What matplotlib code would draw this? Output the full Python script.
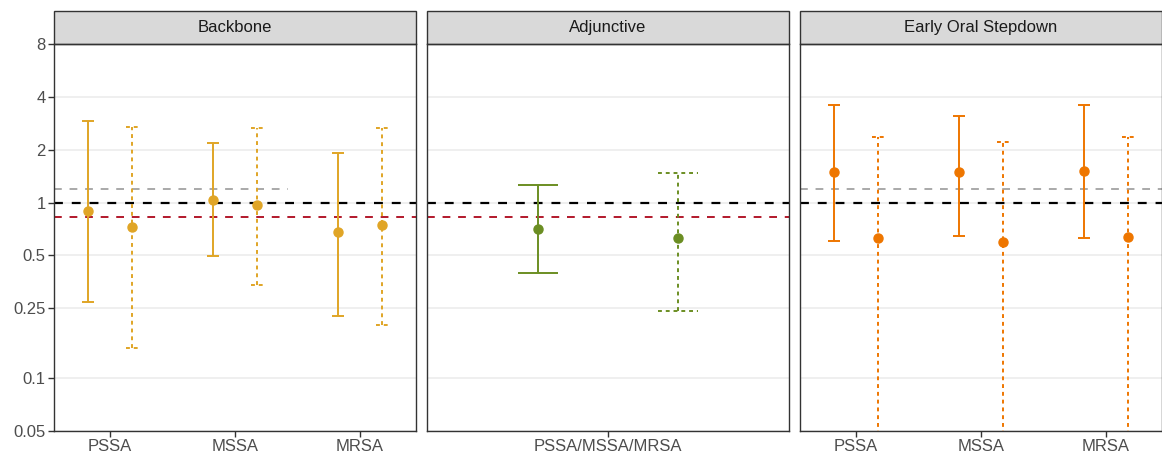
import numpy as np
import matplotlib.pyplot as plt
from matplotlib.patches import Rectangle
from matplotlib.ticker import FixedLocator, NullLocator

plt.rcParams['font.family'] = ['Liberation Sans', 'DejaVu Sans']

# values (log scale)
pathogens = ['PSSA', 'MSSA', 'MRSA']

# Backbone: solid = first estimate, dotted = second estimate
bb_est = [0.90, 1.04, 0.684]
bb_lo = [0.273, 0.495, 0.225]
bb_hi = [2.90, 2.19, 1.925]
bb_est2 = [0.73, 0.97, 0.743]
bb_lo2 = [0.148, 0.34, 0.202]
bb_hi2 = [2.68, 2.65, 2.66]

# Adjunctive
adj_labels = ['PSSA/MSSA/MRSA']
adj_est = [0.705]
adj_lo = [0.398]
adj_hi = [1.26]
adj_est2 = [0.632]
adj_lo2 = [0.242]
adj_hi2 = [1.48]

# Early oral stepdown (dotted lower limits run off the axis)
eos_est = [1.49, 1.49, 1.52]
eos_lo = [0.608, 0.649, 0.63]
eos_hi = [3.6, 3.13, 3.6]
eos_est2 = [0.627, 0.598, 0.638]
eos_lo2 = [0.001, 0.001, 0.001]
eos_hi2 = [2.37, 2.21, 2.37]

null_value = 1.0
red_value = 0.83
gray_value = 1.19

yticks = [0.05, 0.1, 0.25, 0.5, 1, 2, 4, 8]
ytick_labels = ['0.05', '0.1', '0.25', '0.5', '1', '2', '4', '8']

W, H = 1162, 457
fig = plt.figure(figsize=(W / 100, H / 100), dpi=100)

panels = [
    dict(title='Backbone', labels=pathogens, color='#E0A526',
         a=(bb_est, bb_lo, bb_hi), b=(bb_est2, bb_lo2, bb_hi2),
         left=54, pad=0.448, dodge=0.176, cap=0.048, red=True, gray_max=2.42),
    dict(title='Adjunctive', labels=adj_labels, color='#6B8E23',
         a=(adj_est, adj_lo, adj_hi), b=(adj_est2, adj_lo2, adj_hi2),
         left=427, pad=0.6, dodge=0.233, cap=0.066, red=True, gray_max=None),
    dict(title='Early Oral Stepdown', labels=pathogens, color='#EE7600',
         a=(eos_est, eos_lo, eos_hi), b=(eos_est2, eos_lo2, eos_hi2),
         left=800, pad=0.448, dodge=0.176, cap=0.048, red=False, gray_max='all'),
]

pw, top, bottom = 362, 44, 431
strip_h = 33
lw = 1.4
solid = '-'
dotted = (0, (2, 2))
dashed = (0, (4, 4))

for i, p in enumerate(panels):
    ax = fig.add_axes([p['left'] / W, (H - bottom) / H, pw / W, (bottom - top) / H])
    x = np.arange(1, len(p['labels']) + 1)
    xmin, xmax = 1 - p['pad'], len(x) + p['pad']

    ax.set_yscale('log')
    ax.set_ylim(0.05, 8)
    ax.set_xlim(xmin, xmax)
    ax.yaxis.set_major_locator(FixedLocator(yticks))
    ax.yaxis.set_minor_locator(NullLocator())
    ax.grid(axis='y', color='#EBEBEB', lw=1.1, zorder=0)
    ax.set_axisbelow(True)

    # reference lines
    if p['gray_max'] == 'all':
        ax.hlines(gray_value, xmin, xmax, colors='#A9A9A9', lw=lw, linestyles=dashed, zorder=2)
    elif p['gray_max'] is not None:
        ax.hlines(gray_value, xmin, p['gray_max'], colors='#A9A9A9', lw=lw, linestyles=dashed, zorder=2)
    ax.hlines(null_value, xmin, xmax, colors='black', lw=lw + 0.2, linestyles=dashed, zorder=2)
    if p['red']:
        ax.hlines(red_value, xmin, xmax, colors='#B2182B', lw=lw, linestyles=dashed, zorder=2)

    # error bars
    c = p['color']
    for (est, lo, hi), off, ls in [(p['a'], -p['dodge'], solid), (p['b'], p['dodge'], dotted)]:
        xx = x + off
        ax.vlines(xx, lo, hi, colors=c, lw=lw, linestyles=ls, zorder=3)
        ax.hlines(lo, xx - p['cap'], xx + p['cap'], colors=c, lw=lw, linestyles=ls, zorder=3)
        ax.hlines(hi, xx - p['cap'], xx + p['cap'], colors=c, lw=lw, linestyles=ls, zorder=3)
        ax.plot(xx, est, 'o', color=c, ms=6.5, zorder=4)

    ax.set_xticks(x)
    ax.set_xticklabels(p['labels'])
    if i == 0:
        ax.set_yticklabels(ytick_labels)
    else:
        ax.tick_params(axis='y', left=False, labelleft=False)
    ax.tick_params(colors='#333333', length=4, width=1.0, labelsize=12, labelcolor='#4D4D4D', pad=2)

    for s in ax.spines.values():
        s.set_color('#333333')
        s.set_linewidth(1.0)

    # facet strip
    sh = strip_h / (bottom - top)
    ax.add_patch(Rectangle((0, 1), 1, sh, transform=ax.transAxes, clip_on=False,
                           facecolor='#D9D9D9', edgecolor='#333333', lw=1.0))
    ax.text(0.5, 1 + sh / 2, p['title'], transform=ax.transAxes, ha='center', va='center',
            fontsize=12, color='#1A1A1A')

fig.savefig('out.png', dpi=100)
